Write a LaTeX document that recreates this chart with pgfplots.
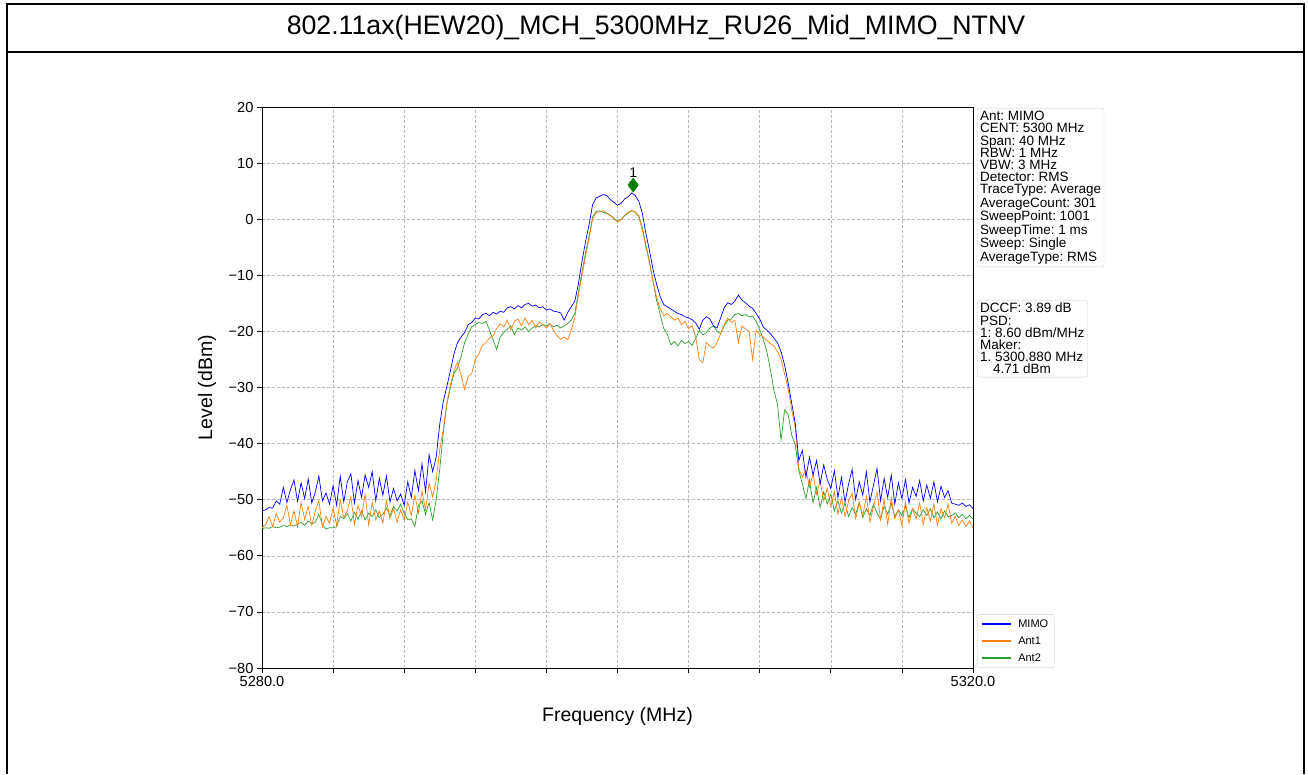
\documentclass[border=0pt]{standalone}
\usepackage{fontspec}
\setmainfont{Liberation Sans}
\usepackage{pgfplots}
\usepackage{pgfplotstable}
\pgfplotsset{compat=1.18}
\frenchspacing

\definecolor{mimo}{RGB}{0,0,255}
\definecolor{antone}{RGB}{255,127,14}
\definecolor{anttwo}{RGB}{44,160,44}
\definecolor{mkgreen}{RGB}{0,128,0}
\definecolor{boxgray}{RGB}{204,204,204}

% spectrum, 0.2 MHz step
\pgfplotstableread{
f mimo ant1 ant2
5280.0 -52.0 -55.0 -55.2
5280.2 -51.8 -54.5 -55.0
5280.4 -51.4 -53.0 -55.1
5280.6 -51.5 -54.8 -54.8
5280.8 -50.2 -52.5 -55.0
5281.0 -50.8 -54.0 -54.9
5281.2 -47.8 -53.2 -54.6
5281.4 -50.5 -51.0 -54.8
5281.6 -48.2 -54.5 -54.5
5281.8 -46.5 -52.0 -54.7
5282.0 -50.3 -54.8 -54.4
5282.2 -47.0 -50.5 -54.0
5282.4 -49.8 -53.5 -54.6
5282.6 -46.3 -51.2 -53.8
5282.8 -50.6 -54.6 -54.3
5283.0 -48.6 -52.0 -54.0
5283.2 -45.8 -50.2 -52.6
5283.4 -50.2 -54.8 -54.5
5283.6 -48.8 -53.0 -55.2
5283.8 -50.8 -54.2 -55.0
5284.0 -47.5 -51.5 -55.0
5284.2 -51.0 -54.6 -54.8
5284.4 -45.8 -50.0 -53.0
5284.6 -50.4 -53.2 -53.4
5284.8 -46.8 -52.0 -52.5
5285.0 -45.4 -49.5 -53.8
5285.2 -50.6 -54.4 -52.2
5285.4 -46.6 -51.0 -53.5
5285.6 -49.6 -53.0 -52.0
5285.8 -45.6 -49.0 -53.6
5286.0 -47.8 -54.5 -52.4
5286.2 -45.0 -50.5 -53.0
5286.4 -50.2 -53.6 -51.8
5286.6 -46.2 -52.0 -53.2
5286.8 -49.2 -54.2 -52.6
5287.0 -45.8 -50.2 -51.5
5287.2 -50.4 -53.4 -52.8
5287.4 -48.0 -51.5 -51.2
5287.6 -50.2 -54.0 -52.0
5287.8 -49.0 -51.8 -50.8
5288.0 -51.0 -53.6 -52.4
5288.2 -46.8 -50.4 -53.6
5288.4 -49.6 -52.8 -53.4
5288.6 -44.8 -49.2 -54.8
5288.8 -48.4 -52.4 -51.0
5289.0 -43.6 -48.5 -50.2
5289.2 -48.6 -51.8 -52.6
5289.4 -42.0 -47.0 -50.5
5289.6 -45.0 -49.5 -53.6
5289.8 -42.4 -46.5 -50.0
5290.0 -36.5 -41.0 -44.5
5290.2 -32.5 -37.5 -38.0
5290.4 -29.8 -32.8 -33.0
5290.6 -27.0 -29.5 -30.0
5290.8 -24.0 -27.0 -27.5
5291.0 -22.0 -25.5 -26.5
5291.2 -21.0 -27.8 -24.5
5291.4 -20.2 -30.4 -22.0
5291.6 -18.8 -28.0 -20.5
5291.8 -18.4 -27.5 -19.2
5292.0 -17.6 -25.0 -18.8
5292.2 -17.8 -24.0 -18.4
5292.4 -17.0 -22.5 -18.6
5292.6 -16.8 -22.0 -18.2
5292.8 -17.2 -21.2 -19.8
5293.0 -16.6 -20.8 -21.5
5293.2 -16.9 -19.5 -23.2
5293.4 -16.4 -18.6 -21.0
5293.6 -16.6 -19.2 -20.2
5293.8 -15.8 -18.0 -19.6
5294.0 -15.6 -19.8 -19.0
5294.2 -16.0 -18.2 -20.6
5294.4 -15.4 -17.8 -19.4
5294.6 -15.8 -19.0 -19.8
5294.8 -15.2 -17.6 -19.2
5295.0 -15.0 -18.8 -20.0
5295.2 -15.5 -18.0 -19.4
5295.4 -15.3 -19.4 -19.0
5295.6 -15.8 -18.3 -19.2
5295.8 -15.6 -18.9 -18.8
5296.0 -16.2 -19.4 -19.0
5296.2 -16.0 -18.6 -18.7
5296.4 -16.4 -19.8 -19.2
5296.6 -16.5 -20.8 -18.9
5296.8 -16.7 -21.4 -19.4
5297.0 -18.0 -21.0 -19.0
5297.2 -16.6 -21.5 -18.6
5297.4 -15.6 -19.8 -18.0
5297.6 -14.6 -17.5 -16.8
5297.8 -11.5 -13.5 -13.0
5298.0 -7.6 -10.0 -9.5
5298.2 -4.0 -6.6 -6.0
5298.4 -1.0 -3.5 -3.0
5298.6 2.6 0.0 0.4
5298.8 3.8 1.2 1.4
5299.0 4.1 1.3 1.5
5299.2 4.4 1.5 1.2
5299.4 4.2 1.1 1.0
5299.6 3.5 0.6 0.7
5299.8 3.0 0.1 0.2
5300.0 2.5 -0.5 -0.4
5300.2 2.8 -0.1 0.0
5300.4 3.6 0.7 0.6
5300.6 4.0 1.2 1.1
5300.8 4.7 1.6 1.5
5301.0 4.2 1.2 1.3
5301.2 3.2 0.4 0.6
5301.4 1.0 -2.0 -1.6
5301.6 -2.6 -5.0 -4.6
5301.8 -5.6 -7.8 -7.5
5302.0 -9.0 -11.0 -11.2
5302.2 -11.6 -13.9 -14.5
5302.4 -13.8 -16.0 -17.0
5302.6 -15.2 -17.2 -19.5
5302.8 -15.6 -16.8 -20.5
5303.0 -16.0 -17.4 -22.4
5303.2 -16.4 -18.0 -21.8
5303.4 -16.8 -17.6 -22.6
5303.6 -17.0 -18.8 -21.6
5303.8 -17.4 -18.2 -22.2
5304.0 -17.6 -19.5 -21.8
5304.2 -17.9 -19.0 -22.5
5304.4 -18.5 -21.0 -21.2
5304.6 -19.6 -25.0 -19.8
5304.8 -18.0 -25.6 -20.6
5305.0 -17.4 -22.0 -20.2
5305.2 -17.8 -22.6 -19.4
5305.4 -19.0 -23.0 -19.0
5305.6 -19.4 -22.0 -20.0
5305.8 -17.6 -20.4 -20.4
5306.0 -15.8 -18.8 -19.0
5306.2 -14.9 -17.6 -18.0
5306.4 -15.2 -18.4 -17.8
5306.6 -14.6 -18.0 -17.0
5306.8 -13.5 -22.0 -16.8
5307.0 -14.4 -19.0 -17.2
5307.2 -14.9 -19.6 -17.0
5307.4 -15.5 -20.0 -17.4
5307.6 -15.9 -25.0 -17.3
5307.8 -16.8 -19.8 -18.2
5308.0 -17.8 -20.6 -19.7
5308.2 -19.2 -21.0 -21.4
5308.4 -19.8 -21.6 -23.6
5308.6 -20.4 -22.2 -26.8
5308.8 -21.2 -22.6 -30.5
5309.0 -22.0 -23.6 -33.0
5309.2 -23.6 -25.0 -39.4
5309.4 -26.0 -27.6 -34.0
5309.6 -29.2 -30.2 -34.8
5309.8 -32.8 -34.0 -38.5
5310.0 -36.4 -37.2 -40.2
5310.2 -43.0 -44.5 -44.8
5310.4 -41.2 -46.0 -47.2
5310.6 -46.0 -44.6 -49.8
5310.8 -42.4 -47.8 -46.5
5311.0 -45.6 -45.4 -50.6
5311.2 -43.0 -49.0 -47.8
5311.4 -47.2 -46.6 -51.4
5311.6 -43.8 -50.2 -48.6
5311.8 -46.4 -48.0 -50.8
5312.0 -48.0 -51.2 -49.0
5312.2 -44.8 -48.6 -52.0
5312.4 -49.6 -52.6 -50.2
5312.6 -46.0 -49.6 -52.4
5312.8 -50.4 -53.0 -50.6
5313.0 -47.2 -50.2 -53.0
5313.2 -44.6 -48.8 -51.4
5313.4 -50.0 -53.4 -52.6
5313.6 -46.8 -50.6 -50.4
5313.8 -49.2 -52.8 -53.2
5314.0 -45.0 -49.4 -51.6
5314.2 -50.4 -54.0 -52.8
5314.4 -47.4 -51.2 -50.8
5314.6 -44.4 -48.6 -52.4
5314.8 -50.2 -53.6 -53.4
5315.0 -46.2 -50.0 -51.2
5315.2 -49.6 -54.4 -52.6
5315.4 -45.6 -49.6 -50.6
5315.6 -50.8 -53.4 -53.0
5315.8 -47.0 -51.8 -51.8
5316.0 -49.8 -54.6 -52.8
5316.2 -46.4 -50.4 -51.2
5316.4 -50.6 -54.2 -53.2
5316.6 -47.8 -51.6 -51.6
5316.8 -49.4 -53.4 -52.4
5317.0 -46.6 -50.6 -53.0
5317.2 -50.2 -54.4 -51.8
5317.4 -47.4 -51.4 -52.8
5317.6 -49.8 -53.8 -51.6
5317.8 -46.8 -50.8 -53.2
5318.0 -50.4 -54.6 -52.2
5318.2 -47.6 -51.6 -53.4
5318.4 -49.6 -53.2 -52.0
5318.6 -48.4 -50.8 -53.0
5318.8 -50.6 -54.2 -52.8
5319.0 -50.8 -53.0 -52.4
5319.2 -51.0 -54.6 -53.2
5319.4 -50.6 -53.6 -52.6
5319.6 -51.2 -54.8 -53.4
5319.8 -50.9 -53.8 -52.8
5320.0 -51.6 -55.0 -53.4
}\spectrum

\begin{document}
\begin{tikzpicture}[x=1pt,y=1pt]
\useasboundingbox (0,0) rectangle (1308,774);

% outer frame and title bar
\draw[line width=2pt] (7,0) -- (7,770) -- (1304,770) -- (1304,0);
\draw[line width=2pt] (7,722) -- (1304,722);
\node[font=\fontsize{26.7}{30}\selectfont] at (656,746)
  {802.11ax(HEW20)\_MCH\_5300MHz\_RU26\_Mid\_MIMO\_NTNV};

\begin{axis}[
    at={(262pt,106pt)}, anchor=south west,
    scale only axis,
    width=711pt, height=561pt,
    xmin=5280, xmax=5320,
    ymin=-80, ymax=20,
    xtick={5280,5284,...,5320},
    xticklabels={5280.0,,,,,,,,,,5320.0},
    ytick={-80,-70,...,20},
    yticklabels={−80,−70,−60,−50,−40,−30,−20,−10,0,10,20},
    xtick pos=bottom, ytick pos=left,
    tick align=outside,
    major tick length=5pt,
    tick style={black, line width=0.8pt},
    axis line style={line width=0.9pt},
    tick label style={font=\fontsize{14.6}{16}\selectfont},
    /pgf/number format/assume math mode=true,
    grid=major,
    grid style={gray!55, line width=0.5pt, dash pattern=on 3pt off 2pt},
    xlabel={Frequency (MHz)},
    ylabel={Level (dBm)},
    label style={font=\fontsize{19.5}{22}\selectfont},
    xlabel style={at={(axis description cs:0.5,-0.0856)}, anchor=center},
    ylabel style={at={(axis description cs:-0.0774,0.5)}, anchor=center},
    legend style={at={(1.0056,0)}, anchor=south west,
        draw=boxgray, rounded corners=2pt,
        font=\fontsize{11}{12}\selectfont,
        row sep=4pt, inner xsep=4pt, inner ysep=3pt,
        cells={anchor=west}},
    legend image code/.code={%
        \draw[#1, line width=1.5pt] (0pt,0pt) -- (29pt,0pt);
        \path (34pt,0pt);},
    reverse legend,
]
\addplot[anttwo, line width=0.7pt] table[x=f, y=ant2] {\spectrum};
\addlegendentry{Ant2}
\addplot[antone, line width=0.7pt] table[x=f, y=ant1] {\spectrum};
\addlegendentry{Ant1}
\addplot[mimo, line width=0.7pt] table[x=f, y=mimo] {\spectrum};
\addlegendentry{MIMO}
\addplot[mkgreen, only marks, mark=diamond*, mark size=7pt, forget plot,
    nodes near coords={1},
    nodes near coords style={text=black, anchor=south, inner sep=1pt,
        yshift=6pt, font=\fontsize{14}{16}\selectfont}]
    coordinates {(5300.88,6.1)};
\end{axis}

% settings boxes to the right of the axis
\node[draw=boxgray, rounded corners=2pt, anchor=north west, align=left,
      inner sep=3pt, font=\fontsize{13.5}{12.2}\selectfont] at (977,666)
  {Ant: MIMO\\CENT: 5300 MHz\\Span: 40 MHz\\RBW: 1 MHz\\VBW: 3 MHz\\
   Detector: RMS\\TraceType: Average\\AverageCount: 301\\SweepPoint: 1001\\
   SweepTime: 1 ms\\Sweep: Single\\AverageType: RMS};
\node[draw=boxgray, rounded corners=2pt, anchor=north west, align=left,
      inner sep=3pt, font=\fontsize{13.5}{12.2}\selectfont] at (977,474)
  {DCCF: 3.89 dB\\PSD:\\1: 8.60 dBm/MHz\\Maker:\\1. 5300.880 MHz\\
   \hspace*{13pt}4.71 dBm};
\end{tikzpicture}
\end{document}
